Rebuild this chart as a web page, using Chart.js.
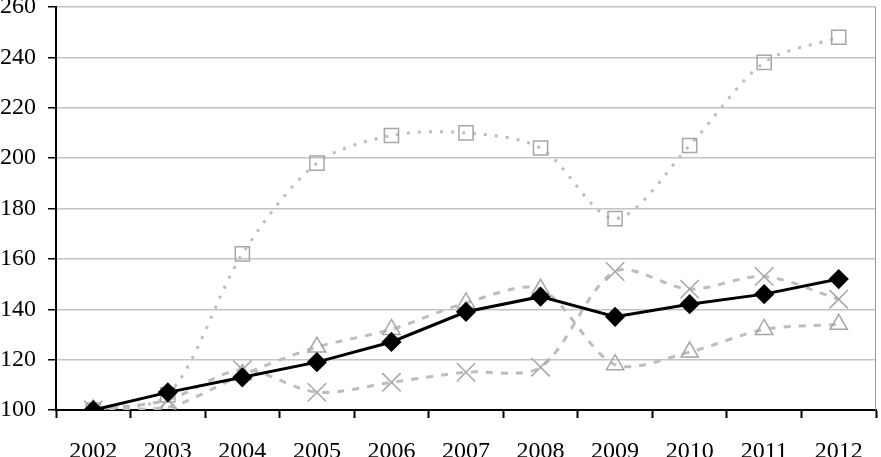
<!DOCTYPE html>
<html>
<head>
<meta charset="utf-8">
<script src="https://cdn.jsdelivr.net/npm/chart.js@4"></script>
<style>
  html, body { margin: 0; padding: 0; background: #fff; }
</style>
</head>
<body>
<canvas id="lineChart" width="881" height="457"></canvas>
<script>
const years = ['2002', '2003', '2004', '2005', '2006', '2007', '2008', '2009', '2010', '2011', '2012'];
const diamondValues = [100, 107, 113, 119, 127, 139, 145, 137, 142, 146, 152];
const squareValues = [100, 106, 162, 198, 209, 210, 204, 176, 205, 238, 248];
const triangleValues = [100, 101, 114, 125, 132, 142.5, 148, 118, 123, 132, 134];
const crossValues = [100, 104, 116, 107, 111, 115, 117, 155, 148, 153, 144];
const yMin = 100, yMax = 260, yStep = 20;

const lineGray = '#bdbdbd';
const markGray = '#a6a6a6';
const serif = "'Liberation Serif', 'Times New Roman', serif";

// right edge of the plot box
const frameRight = {
    id: 'frameRight',
    beforeDatasetsDraw(chart) {
        const a = chart.chartArea;
        const ctx = chart.ctx;
        ctx.save();
        ctx.strokeStyle = '#9a9a9a';
        ctx.lineWidth = 1;
        ctx.beginPath();
        ctx.moveTo(a.right - 0.5, a.top);
        ctx.lineTo(a.right - 0.5, a.bottom);
        ctx.stroke();
        ctx.restore();
    }
};

function drawChart() {
    const ctx = document.getElementById('lineChart').getContext('2d');
    new Chart(ctx, {
        type: 'line',
        data: {
            labels: years,
            datasets: [
                {
                    data: diamondValues,
                    borderColor: '#000',
                    borderWidth: 3,
                    pointStyle: 'rectRot',
                    pointRadius: 8,
                    pointBackgroundColor: '#000',
                    pointBorderColor: '#000',
                    tension: 0
                },
                {
                    data: squareValues,
                    borderColor: lineGray,
                    borderWidth: 3,
                    borderDash: [3, 8],
                    pointStyle: 'rect',
                    pointRadius: 10,
                    pointBackgroundColor: 'rgba(0,0,0,0)',
                    pointBorderColor: markGray,
                    pointBorderWidth: 1.5,
                    tension: 0.3
                },
                {
                    data: triangleValues,
                    borderColor: lineGray,
                    borderWidth: 3,
                    borderDash: [7, 8],
                    pointStyle: 'triangle',
                    pointRadius: 10,
                    pointBackgroundColor: 'rgba(0,0,0,0)',
                    pointBorderColor: markGray,
                    pointBorderWidth: 1.5,
                    tension: 0.3
                },
                {
                    data: crossValues,
                    borderColor: lineGray,
                    borderWidth: 3,
                    borderDash: [7, 8],
                    pointStyle: 'crossRot',
                    pointRadius: 13,
                    pointBorderColor: markGray,
                    pointBorderWidth: 1.5,
                    tension: 0.3
                }
            ]
        },
        options: {
            responsive: false,
            animation: false,
            layout: { autoPadding: false, padding: { top: 7, right: 5, left: 0, bottom: 0 } },
            plugins: {
                legend: { display: false },
                tooltip: { enabled: false },
                title: { display: false }
            },
            scales: {
                x: {
                    offset: true,
                    afterFit(scale) {
                        scale.height = 47;
                        scale.paddingLeft = 0;
                        scale.paddingRight = 0;
                    },
                    grid: {
                        offset: true,
                        drawOnChartArea: false,
                        drawTicks: true,
                        tickLength: 8,
                        tickColor: '#000',
                        tickWidth: 2
                    },
                    border: { color: '#000', width: 2 },
                    ticks: {
                        color: '#000',
                        padding: 19,
                        maxRotation: 0,
                        font: { family: serif, size: 24 }
                    }
                },
                y: {
                    min: yMin,
                    max: yMax,
                    afterFit(scale) {
                        scale.width = 56;
                        scale.paddingTop = 0;
                        scale.paddingBottom = 0;
                    },
                    grid: {
                        color: '#c4c4c4',
                        lineWidth: 1.5,
                        tickLength: 8,
                        tickColor: '#000',
                        tickWidth: 1.5
                    },
                    border: { color: '#000', width: 2 },
                    ticks: {
                        stepSize: yStep,
                        color: '#000',
                        padding: 12,
                        font: { family: serif, size: 24 }
                    }
                }
            }
        },
        plugins: [frameRight]
    });
}

if (document.fonts && document.fonts.load) {
    document.fonts.load("24px 'Liberation Serif'").then(drawChart, drawChart);
} else {
    drawChart();
}
</script>
</body>
</html>
